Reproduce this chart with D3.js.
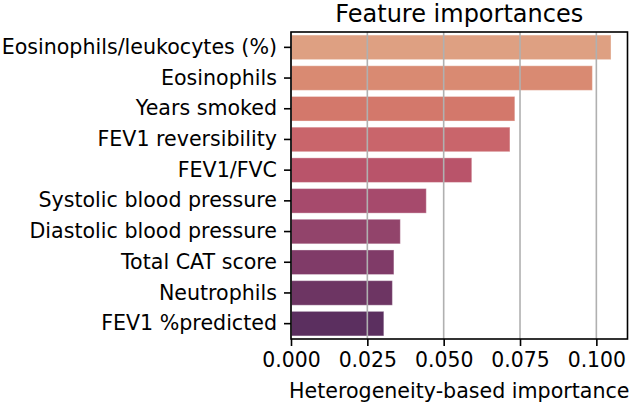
<!DOCTYPE html>
<html>
<head>
<meta charset="utf-8">
<script src="https://cdn.jsdelivr.net/npm/d3@7"></script>
<style>
  html, body { margin: 0; padding: 0; background: #fff; }
  text { font-family: "DejaVu Sans", sans-serif; fill: #000; }
</style>
</head>
<body>
<svg id="chart" width="630" height="405"></svg>
<script>
const categories = [
  "Eosinophils/leukocytes (%)",
  "Eosinophils",
  "Years smoked",
  "FEV1 reversibility",
  "FEV1/FVC",
  "Systolic blood pressure",
  "Diastolic blood pressure",
  "Total CAT score",
  "Neutrophils",
  "FEV1 %predicted"
];
const importances = [0.1048, 0.0987, 0.0733, 0.0717, 0.0592, 0.0443, 0.0358, 0.0337, 0.0332, 0.0304];
const barColors = ["#dea082", "#d98a72", "#d3786b", "#c9656b", "#b9546a", "#a64a6c", "#92446b", "#803b68", "#6d3563", "#5b2f5f"];
const xTicks = [0, 0.025, 0.05, 0.075, 0.1];
const xTickLabels = ["0.000", "0.025", "0.050", "0.075", "0.100"];
const title = "Feature importances";
const xLabel = "Heterogeneity-based importance";

const svg = d3.select("#chart");
const m = { left: 291, right: 627.5, top: 32, bottom: 339 };

const x = d3.scaleLinear().domain([0, 0.1102]).range([m.left, m.right]);
const y = d3.scaleBand().domain(categories).range([m.top, m.bottom]).paddingInner(0.2).paddingOuter(0.1);

// bars
svg.append("g").selectAll("rect").data(categories).join("rect")
  .attr("x", x(0))
  .attr("y", d => y(d))
  .attr("width", (d, i) => x(importances[i]) - x(0))
  .attr("height", y.bandwidth())
  .attr("fill", (d, i) => barColors[i])
  .attr("stroke", "rgba(255,255,255,0.35)")
  .attr("stroke-width", 1);

// grid (drawn over bars)
svg.append("g").selectAll("line").data(xTicks).join("line")
  .attr("x1", d => x(d)).attr("x2", d => x(d))
  .attr("y1", m.top).attr("y2", m.bottom)
  .attr("stroke", "#b0b0b0").attr("stroke-width", 1.6);

// x axis
const xAxis = d3.axisBottom(x).tickValues(xTicks).tickFormat((d, i) => xTickLabels[i]).tickSize(7).tickPadding(6);
const gx = svg.append("g").attr("transform", `translate(0,${m.bottom})`).call(xAxis);
gx.select(".domain").remove();
gx.selectAll(".tick line").attr("stroke", "#000").attr("stroke-width", 1.6);
gx.selectAll(".tick text").style("font-size", "20.4px").attr("dy", "0.75em");

// y axis
const yAxis = d3.axisLeft(y).tickSize(7).tickPadding(7);
const gy = svg.append("g").attr("transform", `translate(${m.left},0)`).call(yAxis);
gy.select(".domain").remove();
gy.selectAll(".tick line").attr("stroke", "#000").attr("stroke-width", 1.6);
gy.selectAll(".tick text").style("font-size", "20.6px");

// frame
svg.append("rect")
  .attr("x", m.left).attr("y", m.top)
  .attr("width", m.right - m.left).attr("height", m.bottom - m.top)
  .attr("fill", "none").attr("stroke", "#000").attr("stroke-width", 1.6);

// title
svg.append("text")
  .attr("x", (m.left + m.right) / 2).attr("y", 22)
  .attr("text-anchor", "middle")
  .style("font-size", "24px")
  .text(title);

// x label
svg.append("text")
  .attr("x", (m.left + m.right) / 2).attr("y", 398)
  .attr("text-anchor", "middle")
  .style("font-size", "20.6px")
  .text(xLabel);
</script>
</body>
</html>
